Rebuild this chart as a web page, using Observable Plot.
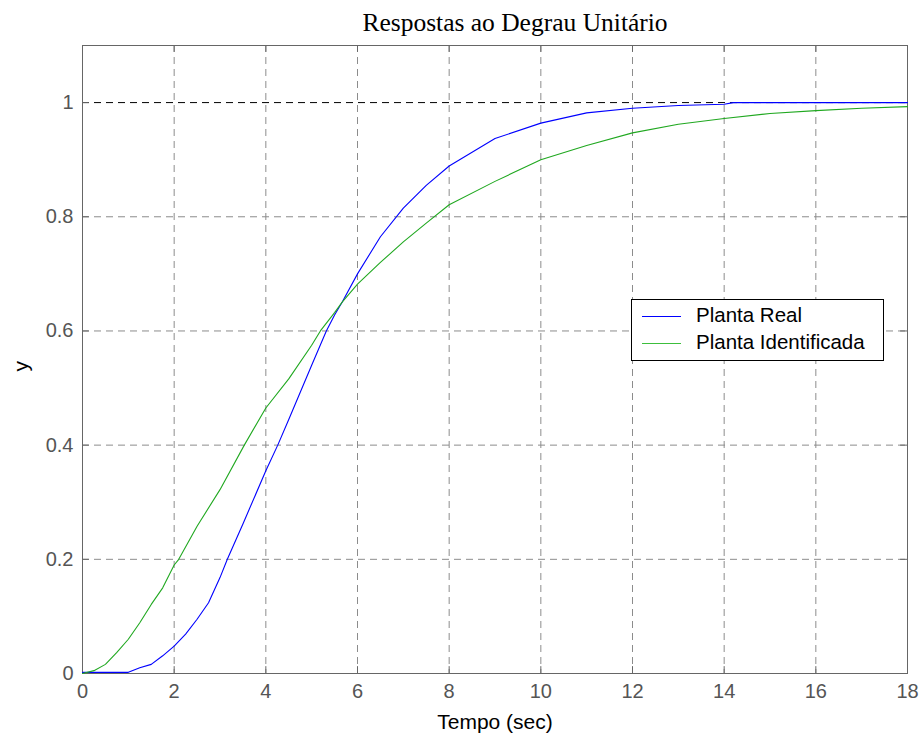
<!DOCTYPE html>
<html>
<head>
<meta charset="utf-8">
<script src="https://cdn.jsdelivr.net/npm/d3@7"></script>
<script src="https://cdn.jsdelivr.net/npm/@observablehq/plot@0.6"></script>
<style>
  body { margin: 0; background: #fff; }
  #wrap { position: relative; width: 920px; height: 740px; }
  #title { height: 40px; box-sizing: border-box; padding: 10px 0 0 110px; text-align: center;
           font-family: "Liberation Serif", "DejaVu Serif", serif; font-size: 25.5px; line-height: 26px; color: #000; }
  #legend { position: absolute; left: 631px; top: 299px; width: 253px; height: 62px; box-sizing: border-box;
            border: 1px solid #000; background: #fff; font-family: "Liberation Sans", Arial, sans-serif; font-size: 20.5px; }
  .sw { position: absolute; left: 10px; width: 39px; height: 0; border-top: 1px solid; }
  .lb { position: absolute; left: 64px; height: 20px; line-height: 20px; white-space: nowrap; color: #000; }
</style>
</head>
<body>
<div id="wrap">
  <div id="title">Respostas ao Degrau Unitário</div>
  <div id="chart"></div>
  <div id="legend"></div>
</div>
<script>
// Series names
const seriesNames = ["Planta Real", "Planta Identificada"];
const seriesColors = ["#0000ff", "#20a820"];
const legendColors = ["#0000ff", "#3cbf3c"];

// Planta Real (blue)
const tReal = [0, 1, 1.25, 1.5, 1.75, 2, 2.25, 2.5, 2.75, 3, 3.16, 3.5, 4, 4.26, 4.5, 5, 5.32, 5.5, 5.67, 6, 6.5, 7, 7.5, 8, 9, 10, 11, 12, 13, 14, 14.2, 18];
const yReal = [0.002, 0.002, 0.010, 0.016, 0.031, 0.048, 0.069, 0.095, 0.124, 0.168, 0.200, 0.262, 0.355, 0.400, 0.445, 0.540, 0.600, 0.628, 0.651, 0.700, 0.765, 0.815, 0.855, 0.889, 0.937, 0.964, 0.982, 0.990, 0.995, 0.997, 1.000, 1.000];

// Planta Identificada (green)
const tIdent = [0, 0.25, 0.5, 0.75, 1, 1.25, 1.5, 1.75, 2, 2.1, 2.5, 3, 3.53, 4, 4.5, 5, 5.19, 5.5, 5.67, 6, 6.5, 7, 7.5, 8, 9, 10, 11, 12, 13, 14, 15, 16, 17, 18];
const yIdent = [0, 0.005, 0.016, 0.037, 0.060, 0.089, 0.121, 0.150, 0.190, 0.200, 0.258, 0.322, 0.400, 0.465, 0.516, 0.575, 0.600, 0.632, 0.651, 0.682, 0.720, 0.756, 0.789, 0.821, 0.862, 0.900, 0.925, 0.947, 0.962, 0.972, 0.981, 0.986, 0.990, 0.993];

// Ticks
const xTicks = [0, 2, 4, 6, 8, 10, 12, 14, 16, 18];
const yTicks = [0, 0.2, 0.4, 0.6, 0.8, 1];
const yTickLabels = ["0", "0.2", "0.4", "0.6", "0.8", "1"];

const real = tReal.map((t, i) => ({t, y: yReal[i]}));
const ident = tIdent.map((t, i) => ({t, y: yIdent[i]}));

const dash = "7,5";
const gridColor = "#8c8c8c";
const axisColor = "#666";
const font = "'Liberation Sans', Arial, sans-serif";

const plot = Plot.plot({
  width: 920,
  height: 700,
  marginTop: 5,
  marginBottom: 67,
  marginLeft: 82,
  marginRight: 13,
  style: { fontFamily: font, background: "#fff" },
  x: { domain: [0, 18] },
  y: { domain: [0, 1.1] },
  marks: [
    Plot.gridX(xTicks, { stroke: gridColor, strokeOpacity: 1, strokeDasharray: dash }),
    Plot.gridY(yTicks.slice(0, 5), { stroke: gridColor, strokeOpacity: 1, strokeDasharray: dash }),
    Plot.ruleY([1], { stroke: "#000", strokeDasharray: dash }),
    // inner ticks (bottom/top, left/right)
    Plot.ruleX(xTicks, { y1: 0, y2: 0.012, stroke: axisColor }),
    Plot.ruleX(xTicks, { y1: 1.088, y2: 1.1, stroke: axisColor }),
    Plot.ruleY(yTicks, { x1: 0, x2: 0.15, stroke: axisColor }),
    Plot.ruleY(yTicks, { x1: 17.85, x2: 18, stroke: axisColor }),
    Plot.frame({ stroke: axisColor }),
    Plot.axisX(xTicks, { tickSize: 0, tickPadding: 10, fontSize: 20, fill: "#555", label: null }),
    Plot.axisY(yTicks, { tickSize: 0, tickPadding: 9, fontSize: 20, fill: "#555", label: null,
      tickFormat: (d) => yTickLabels[yTicks.indexOf(d)] }),
    Plot.line(real, { x: "t", y: "y", stroke: seriesColors[0], strokeWidth: 1.1 }),
    Plot.line(ident, { x: "t", y: "y", stroke: seriesColors[1], strokeWidth: 1.1 }),
    Plot.text(["Tempo (sec)"], { frameAnchor: "bottom", dy: 55, fontSize: 21, fill: "#000" }),
    Plot.text(["y"], { frameAnchor: "left", dx: -61, dy: 12, rotate: -90, fontSize: 21, fill: "#000" })
  ]
});
document.getElementById("chart").appendChild(plot);

const legend = document.getElementById("legend");
seriesNames.forEach((name, i) => {
  const sw = document.createElement("div");
  sw.className = "sw";
  sw.style.top = (16 + i * 27) + "px";
  sw.style.borderColor = legendColors[i];
  const lb = document.createElement("div");
  lb.className = "lb";
  lb.style.top = (5 + i * 27) + "px";
  lb.textContent = name;
  legend.appendChild(sw);
  legend.appendChild(lb);
});
</script>
</body>
</html>
